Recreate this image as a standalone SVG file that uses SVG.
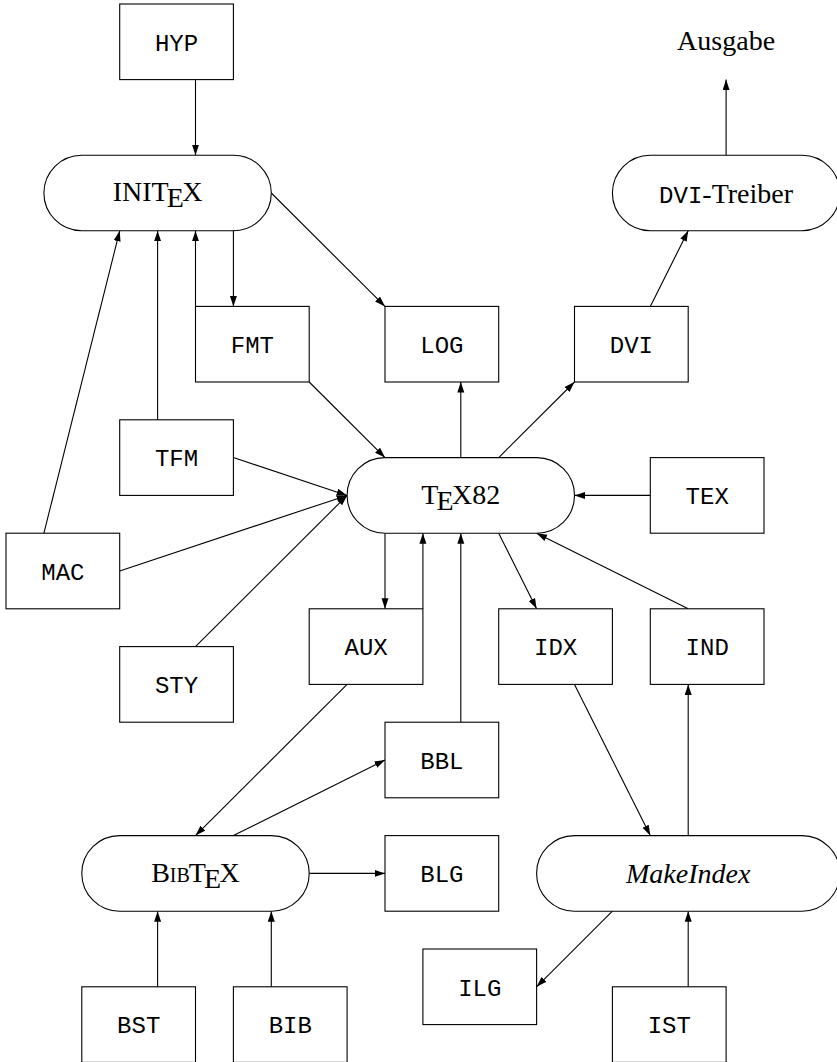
<svg xmlns="http://www.w3.org/2000/svg" width="837" height="1062" viewBox="0 0 837 1062">
<style>
.box{fill:#fff;stroke:#000;stroke-width:1.1}
.st{fill:#fff;stroke:#000;stroke-width:1.1}
.mono{font-family:"Liberation Mono","Courier New",monospace;font-size:24px;text-anchor:middle;fill:#000}
.serif{font-family:"Liberation Serif","Times New Roman",serif;font-size:28px;text-anchor:middle;fill:#000}
.it{font-style:italic}
.conn line{stroke:#000;stroke-width:1.1;fill:none;marker-end:url(#ah)}
</style>
<defs>
<marker id="ah" markerUnits="userSpaceOnUse" markerWidth="11" markerHeight="8" refX="10.5" refY="3.5" orient="auto">
<path d="M0,0 L10.5,3.5 L0,7 z" fill="#000"/>
</marker>
</defs>
<rect width="837" height="1062" fill="#fff"/>

<g class="conn" id="connectors">
<line x1="195.5" y1="79.6" x2="195.5" y2="155.2"/>
<line x1="233.4" y1="230.8" x2="233.4" y2="306.4"/>
<line x1="195.5" y1="306.4" x2="195.5" y2="230.8"/>
<line x1="157.6" y1="419.8" x2="157.6" y2="230.8"/>
<line x1="43.9" y1="533.2" x2="119.7" y2="230.8"/>
<line x1="271.3" y1="193" x2="385" y2="306.4"/>
<line x1="309.2" y1="382" x2="385" y2="457.6"/>
<line x1="233.4" y1="457.6" x2="347.1" y2="495.4"/>
<line x1="119.7" y1="571" x2="347.1" y2="495.4"/>
<line x1="195.5" y1="646.6" x2="347.1" y2="495.4"/>
<line x1="460.8" y1="457.6" x2="460.8" y2="382"/>
<line x1="498.7" y1="457.6" x2="574.5" y2="382"/>
<line x1="650.3" y1="306.4" x2="688.2" y2="230.8"/>
<line x1="726.1" y1="155.2" x2="726.1" y2="79.6"/>
<line x1="650.3" y1="495.4" x2="574.5" y2="495.4"/>
<line x1="385" y1="533.2" x2="385" y2="608.8"/>
<line x1="422.9" y1="608.8" x2="422.9" y2="533.2"/>
<line x1="460.8" y1="722.2" x2="460.8" y2="533.2"/>
<line x1="498.7" y1="533.2" x2="536.6" y2="608.8"/>
<line x1="688.2" y1="608.8" x2="536.6" y2="533.2"/>
<line x1="347.1" y1="684.4" x2="195.5" y2="835.6"/>
<line x1="233.4" y1="835.6" x2="385" y2="760"/>
<line x1="309.2" y1="873.4" x2="385" y2="873.4"/>
<line x1="574.5" y1="684.4" x2="650.3" y2="835.6"/>
<line x1="688.2" y1="835.6" x2="688.2" y2="684.4"/>
<line x1="612.4" y1="911.2" x2="536.6" y2="986.8"/>
<line x1="157.6" y1="986.8" x2="157.6" y2="911.2"/>
<line x1="271.3" y1="986.8" x2="271.3" y2="911.2"/>
<line x1="688.2" y1="986.8" x2="688.2" y2="911.2"/>
</g>

<g id="HYP"><rect class="box" x="119.7" y="4" width="113.7" height="75.6"/><text class="mono" x="176.5" y="50.5">HYP</text></g>
<g id="FMT"><rect class="box" x="195.5" y="306.4" width="113.7" height="75.6"/><text class="mono" x="252.4" y="352.9">FMT</text></g>
<g id="LOG"><rect class="box" x="385" y="306.4" width="113.7" height="75.6"/><text class="mono" x="441.9" y="352.9">LOG</text></g>
<g id="DVI"><rect class="box" x="574.5" y="306.4" width="113.7" height="75.6"/><text class="mono" x="631.4" y="352.9">DVI</text></g>
<g id="TFM"><rect class="box" x="119.7" y="419.8" width="113.7" height="75.6"/><text class="mono" x="176.5" y="466.3">TFM</text></g>
<g id="TEX"><rect class="box" x="650.3" y="457.6" width="113.7" height="75.6"/><text class="mono" x="707.2" y="504.1">TEX</text></g>
<g id="MAC"><rect class="box" x="6" y="533.2" width="113.7" height="75.6"/><text class="mono" x="62.9" y="579.7">MAC</text></g>
<g id="STY"><rect class="box" x="119.7" y="646.6" width="113.7" height="75.6"/><text class="mono" x="176.5" y="693.1">STY</text></g>
<g id="AUX"><rect class="box" x="309.2" y="608.8" width="113.7" height="75.6"/><text class="mono" x="366.1" y="655.3">AUX</text></g>
<g id="IDX"><rect class="box" x="498.7" y="608.8" width="113.7" height="75.6"/><text class="mono" x="555.6" y="655.3">IDX</text></g>
<g id="IND"><rect class="box" x="650.3" y="608.8" width="113.7" height="75.6"/><text class="mono" x="707.2" y="655.3">IND</text></g>
<g id="BBL"><rect class="box" x="385" y="722.2" width="113.7" height="75.6"/><text class="mono" x="441.9" y="768.7">BBL</text></g>
<g id="BLG"><rect class="box" x="385" y="835.6" width="113.7" height="75.6"/><text class="mono" x="441.9" y="882.1">BLG</text></g>
<g id="ILG"><rect class="box" x="422.9" y="949" width="113.7" height="75.6"/><text class="mono" x="479.8" y="995.5">ILG</text></g>
<g id="BST"><rect class="box" x="81.8" y="986.8" width="113.7" height="75.6"/><text class="mono" x="138.7" y="1033.3">BST</text></g>
<g id="BIB"><rect class="box" x="233.4" y="986.8" width="113.7" height="75.6"/><text class="mono" x="290.3" y="1033.3">BIB</text></g>
<g id="IST"><rect class="box" x="612.4" y="986.8" width="113.7" height="75.6"/><text class="mono" x="669.3" y="1033.3">IST</text></g>

<g id="Ausgabe"><text class="serif" x="726.1" y="50">Ausgabe</text></g>

<g id="INITEX"><rect class="st" x="43.9" y="155.2" width="227.4" height="75.6" rx="37.8" ry="37.8"/>
<text class="serif" x="157.6" y="201">INIT<tspan dx="-2" dy="6">E</tspan><tspan dx="-1.5" dy="-6">X</tspan></text></g>

<g id="DVI-Treiber"><rect class="st" x="612.4" y="155.2" width="227.4" height="75.6" rx="37.8" ry="37.8"/>
<text class="serif" x="726.1" y="202.5"><tspan style="font-family:'Liberation Mono','Courier New',monospace;font-size:24px">DVI</tspan>-Treiber</text></g>

<g id="TeX82"><rect class="st" x="347.1" y="457.6" width="227.4" height="75.6" rx="37.8" ry="37.8"/>
<text class="serif" x="460.8" y="503.5">T<tspan dx="-2" dy="6">E</tspan><tspan dx="-1.5" dy="-6">X82</tspan></text></g>

<g id="BibTeX"><rect class="st" x="81.8" y="835.6" width="227.4" height="75.6" rx="37.8" ry="37.8"/>
<text class="serif" x="195.5" y="881.5">B<tspan style="font-size:20px">IB</tspan><tspan dx="-1">T</tspan><tspan dx="-2" dy="6">E</tspan><tspan dx="-1.5" dy="-6">X</tspan></text></g>

<g id="MakeIndex"><rect class="st" x="536.6" y="835.6" width="303.2" height="75.6" rx="37.8" ry="37.8"/>
<text class="serif it" x="688.2" y="883">MakeIndex</text></g>
</svg>
